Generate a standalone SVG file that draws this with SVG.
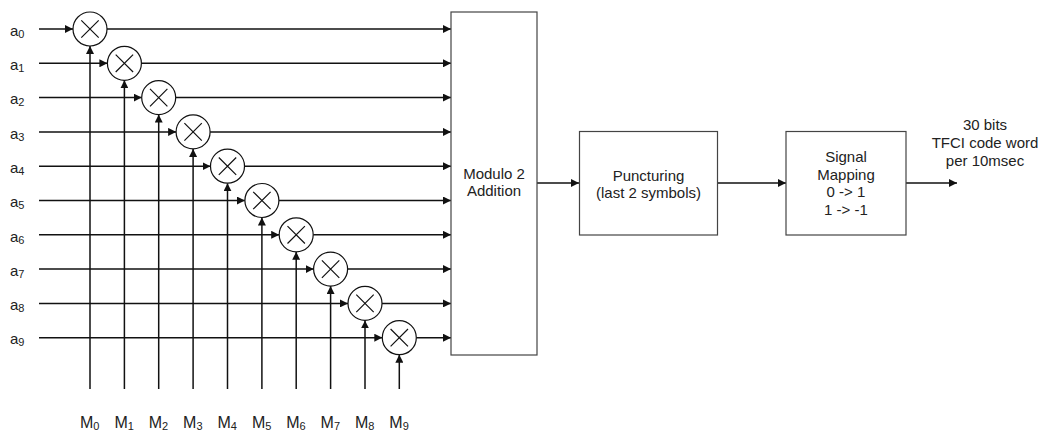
<svg xmlns="http://www.w3.org/2000/svg" xmlns:xlink="http://www.w3.org/1999/xlink" width="1046" height="432" viewBox="0 0 1046 432">
  <style>
    .wire { fill: none; stroke: #111; stroke-width: 1.5; }
    .box { fill: #fff; stroke: #444; stroke-width: 1.2; }
    .mulc { fill: #fff; stroke: #111; stroke-width: 1.2; }
    .label { font-family: "Liberation Sans", Arial, sans-serif; fill: #222; }
    .in { font-size: 15px; }
    .sel { font-size: 16px; }
    .sub { font-size: 11px; }
    .blk { font-family: "Liberation Sans", Arial, sans-serif; font-size: 15px; fill: #222; text-anchor: middle; }
  </style>
  <defs>
    <marker id="arr" viewBox="0 0 8 8" refX="8" refY="4" markerWidth="8" markerHeight="8" orient="auto" markerUnits="userSpaceOnUse">
      <path d="M0,0 L8,4 L0,8 z" fill="#111"/>
    </marker>
    <!-- multiplier symbol: circle with a cross -->
    <g id="mul">
      <circle r="17" class="mulc"/>
      <path d="M-8.7,-8.7 L8.7,8.7 M8.7,-8.7 L-8.7,8.7" stroke="#111" stroke-width="1.2" fill="none"/>
    </g>
  </defs>

  <!-- connectors -->
  <g id="connectors" class="wire" marker-end="url(#arr)">
    <!-- input bits into multipliers -->
    <line x1="39" y1="29" x2="73" y2="29" marker-end="url(#arr)"/>
    <line x1="39" y1="63.3" x2="107.4" y2="63.3" marker-end="url(#arr)"/>
    <line x1="39" y1="97.6" x2="141.7" y2="97.6" marker-end="url(#arr)"/>
    <line x1="39" y1="131.9" x2="176.1" y2="131.9" marker-end="url(#arr)"/>
    <line x1="39" y1="166.2" x2="210.5" y2="166.2" marker-end="url(#arr)"/>
    <line x1="39" y1="200.5" x2="244.9" y2="200.5" marker-end="url(#arr)"/>
    <line x1="39" y1="234.8" x2="279.2" y2="234.8" marker-end="url(#arr)"/>
    <line x1="39" y1="269.1" x2="313.6" y2="269.1" marker-end="url(#arr)"/>
    <line x1="39" y1="303.4" x2="348" y2="303.4" marker-end="url(#arr)"/>
    <line x1="39" y1="337.7" x2="382.3" y2="337.7" marker-end="url(#arr)"/>
    <!-- multiplier outputs into the adder -->
    <line x1="107" y1="29" x2="451" y2="29" marker-end="url(#arr)"/>
    <line x1="141.4" y1="63.3" x2="451" y2="63.3" marker-end="url(#arr)"/>
    <line x1="175.7" y1="97.6" x2="451" y2="97.6" marker-end="url(#arr)"/>
    <line x1="210.1" y1="131.9" x2="451" y2="131.9" marker-end="url(#arr)"/>
    <line x1="244.5" y1="166.2" x2="451" y2="166.2" marker-end="url(#arr)"/>
    <line x1="278.9" y1="200.5" x2="451" y2="200.5" marker-end="url(#arr)"/>
    <line x1="313.2" y1="234.8" x2="451" y2="234.8" marker-end="url(#arr)"/>
    <line x1="347.6" y1="269.1" x2="451" y2="269.1" marker-end="url(#arr)"/>
    <line x1="382" y1="303.4" x2="451" y2="303.4" marker-end="url(#arr)"/>
    <line x1="416.3" y1="337.7" x2="451" y2="337.7" marker-end="url(#arr)"/>
    <!-- basis sequences M0..M9 -->
    <line x1="90" y1="389" x2="90" y2="46" marker-end="url(#arr)"/>
    <line x1="124.4" y1="389" x2="124.4" y2="80.3" marker-end="url(#arr)"/>
    <line x1="158.7" y1="389" x2="158.7" y2="114.6" marker-end="url(#arr)"/>
    <line x1="193.1" y1="389" x2="193.1" y2="148.9" marker-end="url(#arr)"/>
    <line x1="227.5" y1="389" x2="227.5" y2="183.2" marker-end="url(#arr)"/>
    <line x1="261.9" y1="389" x2="261.9" y2="217.5" marker-end="url(#arr)"/>
    <line x1="296.2" y1="389" x2="296.2" y2="251.8" marker-end="url(#arr)"/>
    <line x1="330.6" y1="389" x2="330.6" y2="286.1" marker-end="url(#arr)"/>
    <line x1="365" y1="389" x2="365" y2="320.4" marker-end="url(#arr)"/>
    <line x1="399.3" y1="389" x2="399.3" y2="354.7" marker-end="url(#arr)"/>
    <!-- processing chain -->
    <line x1="537" y1="183" x2="579" y2="183" marker-end="url(#arr)"/>
    <line x1="717.5" y1="183" x2="786" y2="183" marker-end="url(#arr)"/>
    <line x1="906" y1="183" x2="957" y2="183" marker-end="url(#arr)"/>
  </g>

  <!-- multipliers -->
  <g id="mul0"><use xlink:href="#mul" href="#mul" x="90" y="29"/></g>
  <g id="mul1"><use xlink:href="#mul" href="#mul" x="124.4" y="63.3"/></g>
  <g id="mul2"><use xlink:href="#mul" href="#mul" x="158.7" y="97.6"/></g>
  <g id="mul3"><use xlink:href="#mul" href="#mul" x="193.1" y="131.9"/></g>
  <g id="mul4"><use xlink:href="#mul" href="#mul" x="227.5" y="166.2"/></g>
  <g id="mul5"><use xlink:href="#mul" href="#mul" x="261.9" y="200.5"/></g>
  <g id="mul6"><use xlink:href="#mul" href="#mul" x="296.2" y="234.8"/></g>
  <g id="mul7"><use xlink:href="#mul" href="#mul" x="330.6" y="269.1"/></g>
  <g id="mul8"><use xlink:href="#mul" href="#mul" x="365" y="303.4"/></g>
  <g id="mul9"><use xlink:href="#mul" href="#mul" x="399.3" y="337.7"/></g>

  <!-- input bit labels -->
  <g id="inputs" class="label in">
    <text x="10" y="35.7">a<tspan class="sub" dy="2">0</tspan></text>
    <text x="10" y="70">a<tspan class="sub" dy="2">1</tspan></text>
    <text x="10" y="104.3">a<tspan class="sub" dy="2">2</tspan></text>
    <text x="10" y="138.6">a<tspan class="sub" dy="2">3</tspan></text>
    <text x="10" y="172.9">a<tspan class="sub" dy="2">4</tspan></text>
    <text x="10" y="207.2">a<tspan class="sub" dy="2">5</tspan></text>
    <text x="10" y="241.5">a<tspan class="sub" dy="2">6</tspan></text>
    <text x="10" y="275.8">a<tspan class="sub" dy="2">7</tspan></text>
    <text x="10" y="310.1">a<tspan class="sub" dy="2">8</tspan></text>
    <text x="10" y="344.4">a<tspan class="sub" dy="2">9</tspan></text>
  </g>

  <!-- basis sequence labels -->
  <g id="bases" class="label sel">
    <text x="80" y="428">M<tspan class="sub" dy="2">0</tspan></text>
    <text x="114.4" y="428">M<tspan class="sub" dy="2">1</tspan></text>
    <text x="148.7" y="428">M<tspan class="sub" dy="2">2</tspan></text>
    <text x="183.1" y="428">M<tspan class="sub" dy="2">3</tspan></text>
    <text x="217.5" y="428">M<tspan class="sub" dy="2">4</tspan></text>
    <text x="251.9" y="428">M<tspan class="sub" dy="2">5</tspan></text>
    <text x="286.2" y="428">M<tspan class="sub" dy="2">6</tspan></text>
    <text x="320.6" y="428">M<tspan class="sub" dy="2">7</tspan></text>
    <text x="355" y="428">M<tspan class="sub" dy="2">8</tspan></text>
    <text x="389.3" y="428">M<tspan class="sub" dy="2">9</tspan></text>
  </g>

  <!-- modulo-2 adder -->
  <g id="adder">
    <rect class="box" x="451" y="12" width="86" height="343"/>
    <text class="blk" x="494" y="179">Modulo 2</text>
    <text class="blk" x="494" y="196">Addition</text>
  </g>

  <!-- puncturing -->
  <g id="puncturing">
    <rect class="box" x="579.5" y="131.5" width="138" height="103.5"/>
    <text class="blk" x="648.5" y="180.5">Puncturing</text>
    <text class="blk" x="648.5" y="198">(last 2 symbols)</text>
  </g>

  <!-- signal mapping -->
  <g id="mapping">
    <rect class="box" x="786" y="131.5" width="120" height="103.5"/>
    <text class="blk" x="846" y="162">Signal</text>
    <text class="blk" x="846" y="179.5">Mapping</text>
    <text class="blk" x="846" y="197">0 -&gt; 1</text>
    <text class="blk" x="846" y="215">1 -&gt; -1</text>
  </g>

  <!-- output description -->
  <g id="output">
    <text class="blk" x="985" y="129.5">30 bits</text>
    <text class="blk" x="985" y="147.5">TFCI code word</text>
    <text class="blk" x="985" y="165.5">per 10msec</text>
  </g>
</svg>
